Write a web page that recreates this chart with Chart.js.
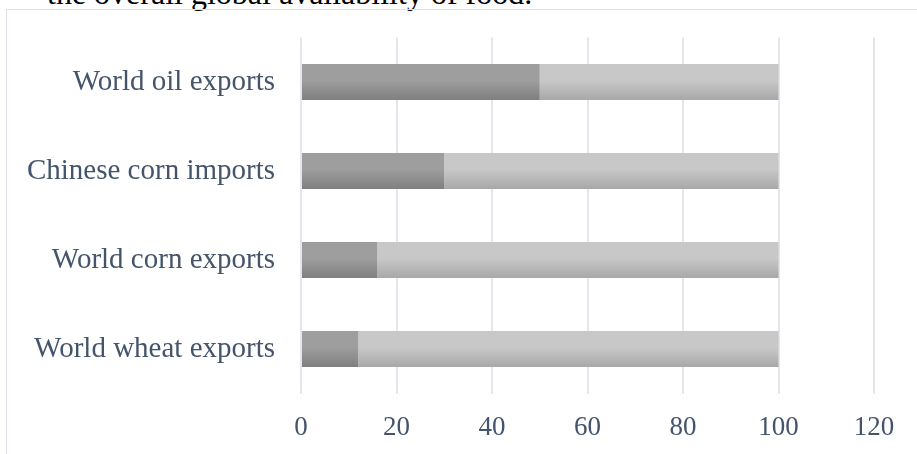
<!DOCTYPE html>
<html>
<head>
<meta charset="utf-8">
<script src="https://cdn.jsdelivr.net/npm/chart.js@4.4.1/dist/chart.umd.min.js"></script>
<style>
  html, body { margin: 0; padding: 0; background: #fff; overflow: hidden; }
  body { width: 917px; height: 454px; position: relative; }
  .caption {
    position: absolute; left: 47px; top: -23px;
    font: 32px "Liberation Serif", "Times New Roman", serif;
    line-height: 32px; color: #000; white-space: nowrap;
  }
  .frame {
    position: absolute; left: 6px; top: 9px; width: 1000px; height: 1000px;
    border: 1.5px solid #dde0e6;
  }
  #wrap { position: absolute; left: 0; top: 0; width: 917px; height: 454px; }
</style>
</head>
<body>
<div class="caption">the overall global availability of food.</div>
<div class="frame"></div>
<div id="wrap"><canvas id="barChart"></canvas></div>
<script>
const categories = ['World oil exports', 'Chinese corn imports', 'World corn exports', 'World wheat exports'];
const shareValues = [50, 30, 16, 12];
const restValues = [50, 70, 84, 88];
const xTicks = [0, 20, 40, 60, 80, 100, 120];

const labelColor = '#44546a';
const serif = '"Liberation Serif", "Times New Roman", serif';

// vertical shading on each bar, top lighter than bottom
const barGradient = (top, bottom) => (context) => {
  const chart = context.chart;
  if (!chart.chartArea) return top;
  const y = chart.scales.y;
  const center = y.getPixelForValue(context.dataIndex);
  const half = 18;
  const g = chart.ctx.createLinearGradient(0, center - half, 0, center + half);
  g.addColorStop(0, top);
  g.addColorStop(0.45, top);
  g.addColorStop(1, bottom);
  return g;
};

new Chart(document.getElementById('barChart'), {
  type: 'bar',
  data: {
    labels: categories,
    datasets: [{
      data: shareValues,
      backgroundColor: barGradient('#9e9e9e', '#7f7f7f'),
      borderWidth: 0
    }, {
      data: restValues,
      backgroundColor: barGradient('#c8c8c8', '#a8a8a8'),
      borderWidth: 0
    }]
  },
  options: {
    indexAxis: 'y',
    responsive: true,
    maintainAspectRatio: false,
    animation: false,
    events: [],
    categoryPercentage: 1,
    barPercentage: 0.405,
    layout: { padding: { left: 0, top: 37.5, right: 43, bottom: 0 } },
    plugins: { legend: { display: false }, tooltip: { enabled: false } },
    scales: {
      x: {
        stacked: true,
        min: 0,
        max: 120,
        afterBuildTicks: (scale) => { scale.ticks = xTicks.map(v => ({ value: v })); },
        afterFit: (scale) => { scale.height = 60.5; },
        grid: { color: '#e3e6ec', lineWidth: 2, drawTicks: false },
        border: { display: false },
        ticks: { color: labelColor, font: { family: serif, size: 27 }, padding: 18, maxRotation: 0 }
      },
      y: {
        stacked: true,
        afterFit: (scale) => {
          scale.width = 301;
          // the label padding should not push the plot area down
          scale.paddingTop = 0;
          scale.paddingBottom = 0;
        },
        grid: { display: false, drawTicks: false },
        border: { display: false },
        ticks: { color: labelColor, font: { family: serif, size: 29 }, padding: 26 }
      }
    }
  }
});
</script>
</body>
</html>
